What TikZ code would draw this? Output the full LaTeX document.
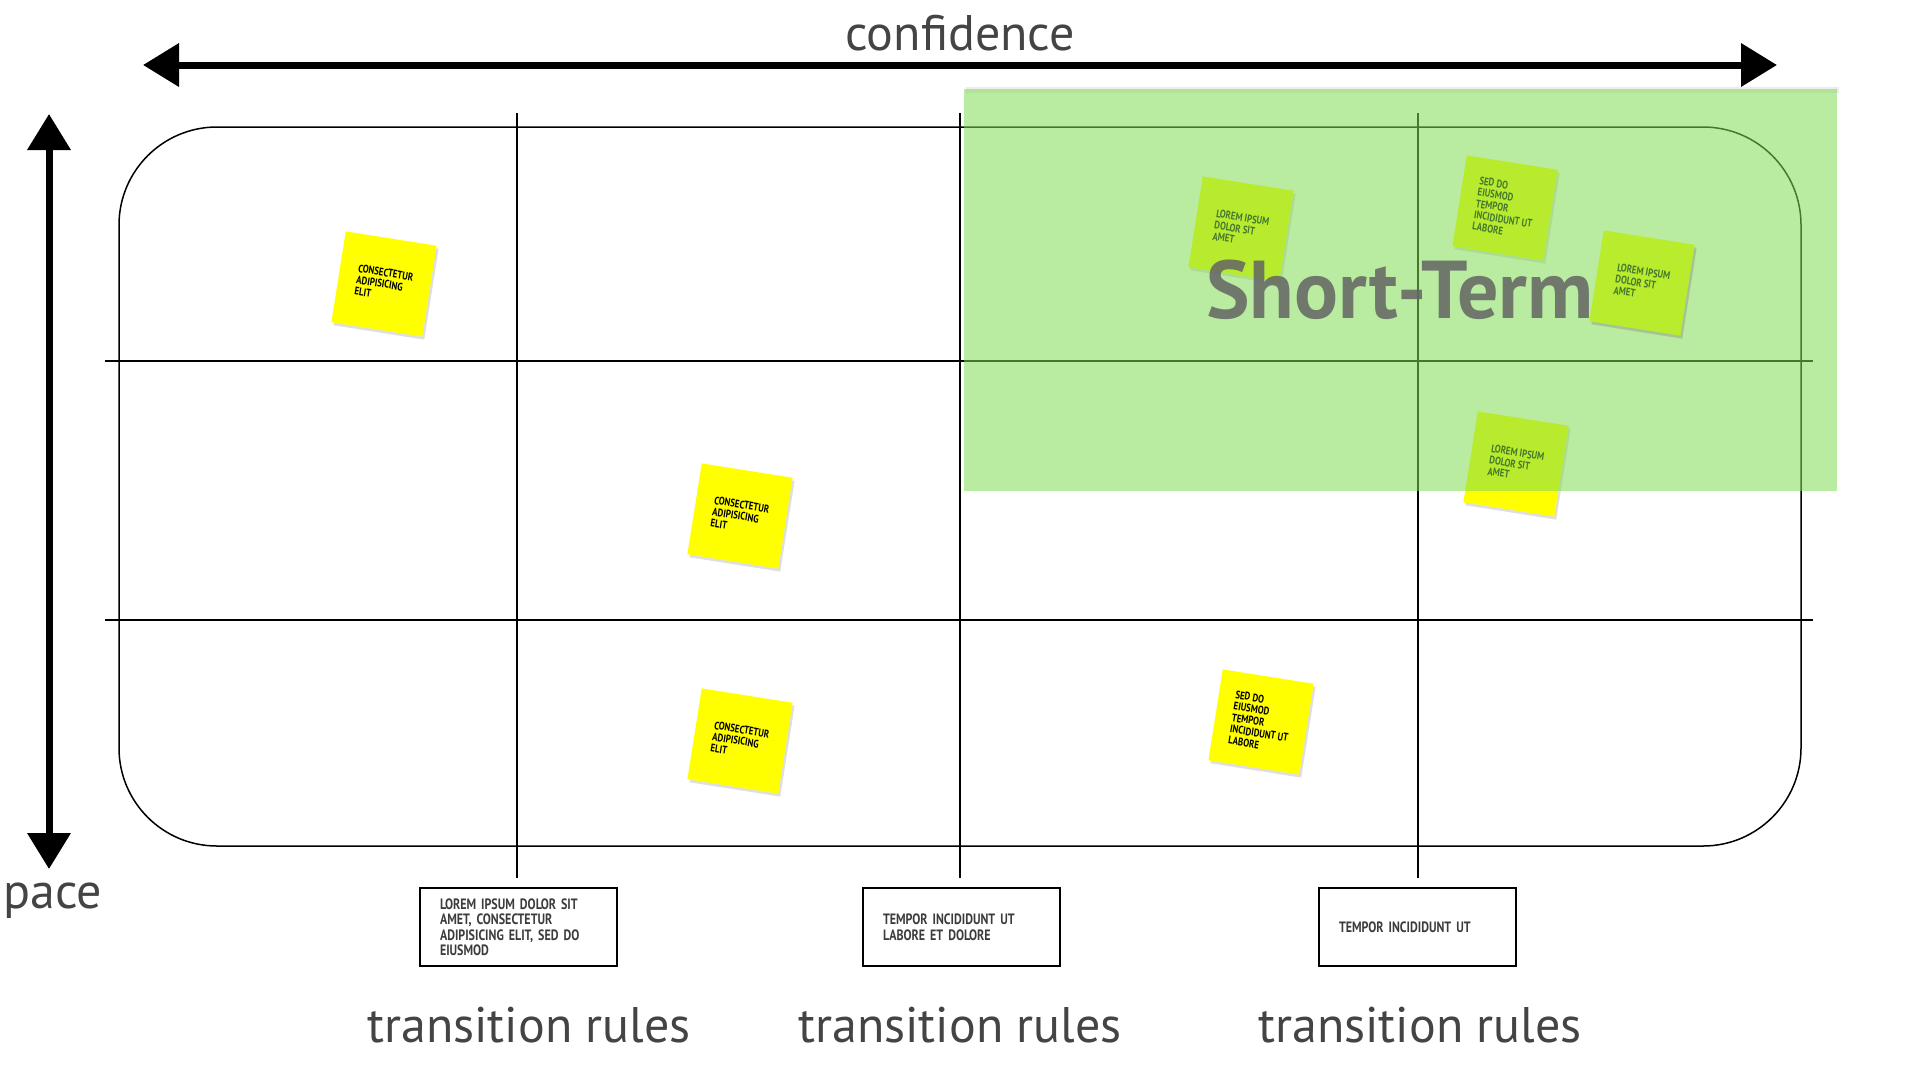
\documentclass[tikz,border=0pt]{standalone}
\usepackage{fontspec}
\setmainfont{PT Sans}
\newfontfamily\notefont{PT Sans}[FakeStretch=0.8]
\usetikzlibrary{arrows.meta,shadows}
\definecolor{stickyyellow}{RGB}{255,255,0}
\definecolor{stickylime}{RGB}{185,236,45}
\definecolor{limetext}{RGB}{70,121,45}
\definecolor{txtgray}{RGB}{68,68,68}
\definecolor{boxtxt}{RGB}{60,60,60}
\definecolor{overlaygreen}{RGB}{127,220,82}
\definecolor{stgray}{RGB}{100,100,100}
\begin{document}
\begin{tikzpicture}[x=1pt,y=-1pt,
  sticky/.style={fill=stickyyellow, minimum width=92pt, minimum height=92pt, rotate=-9,
    drop shadow={opacity=0.25, shadow xshift=2pt, shadow yshift=-3pt},
    font=\notefont\bfseries\fontsize{11}{11.5}\selectfont, align=left, text=black, inner sep=0pt},
  rulebox/.style={draw, line width=1.5pt, minimum width=197pt, minimum height=78pt,
    text width=157pt, inner xsep=20pt, align=left, text=boxtxt,
    font=\notefont\bfseries\fontsize{15}{15.5}\selectfont},
  bigaxis/.style={line width=7pt, {Triangle[length=36pt,width=42pt]}-{Triangle[length=36pt,width=42pt]}},
  axislabel/.style={text=txtgray, font=\fontsize{50}{56}\selectfont, inner sep=0pt},
  gridline/.style={line width=1.3pt}]
\useasboundingbox (0,0) rectangle (1920,1080);

% axes
\coordinate (cl) at (143,65);
\coordinate (cr) at (1777,65);
\coordinate (pt) at (49,114);
\coordinate (pb) at (49,869);
\draw[bigaxis] (cl) -- (cr);
\draw[bigaxis] (pt) -- (pb);
\node[axislabel] (confidence) at (960,33) {confidence};
\node[axislabel] (pace) at (53,901) {pace};

% board
\node[draw, line width=1.5pt, rounded corners=98pt, minimum width=1682pt, minimum height=719pt] (board) at (960,486.5) {};

% grid
\coordinate (v1t) at (517,113); \coordinate (v1b) at (517,878);
\coordinate (v2t) at (960,113); \coordinate (v2b) at (960,878);
\coordinate (v3t) at (1418,113); \coordinate (v3b) at (1418,878);
\coordinate (h1l) at (105,361); \coordinate (h1r) at (1813,361);
\coordinate (h2l) at (105,620); \coordinate (h2r) at (1813,620);
\draw[gridline] (v1t) -- (v1b);
\draw[gridline] (v2t) -- (v2b);
\draw[gridline] (v3t) -- (v3b);
\draw[gridline] (h1l) -- (h1r);
\draw[gridline] (h2l) -- (h2r);

% sticky notes
\node[sticky] (s1) at (384,284) {CONSECTETUR\\ADIPISICING\\ELIT};
\node[sticky] (s2) at (740,516) {CONSECTETUR\\ADIPISICING\\ELIT};
\node[sticky] (s3) at (740,741) {CONSECTETUR\\ADIPISICING\\ELIT};
\node[sticky] (s4) at (1261,722) {SED DO\\EIUSMOD\\TEMPOR\\INCIDIDUNT UT\\LABORE};
\node[sticky] (g1) at (1241,229) {LOREM IPSUM\\DOLOR SIT\\AMET};
\node[sticky] (g2) at (1505,208) {SED DO\\EIUSMOD\\TEMPOR\\INCIDIDUNT UT\\LABORE};
\node[sticky] (g4) at (1516,464) {LOREM IPSUM\\DOLOR SIT\\AMET};

% short-term overlay
\fill[gray, opacity=0.15] (966,87) rectangle (1839,93);
\fill[overlaygreen, opacity=0.55] (964,89) rectangle (1837,491);
\node[text=stgray, text opacity=0.85, font=\bfseries\fontsize{82}{82}\selectfont, inner sep=0pt] (shortterm) at (1400,290) {Short-Term};

% sticky note lying over the title (already seen through the overlay)
\node[sticky, fill=stickylime, text=limetext, drop shadow={opacity=0.15, shadow xshift=2pt, shadow yshift=-3pt}] (g3) at (1642,283) {LOREM IPSUM\\DOLOR SIT\\AMET};

% transition rule boxes
\node[rulebox] (r1) at (518.5,927) {LOREM IPSUM DOLOR SIT\\AMET, CONSECTETUR\\ADIPISICING ELIT, SED DO\\EIUSMOD};
\node[rulebox] (r2) at (961.5,927) {TEMPOR INCIDIDUNT UT\\LABORE ET DOLORE};
\node[rulebox] (r3) at (1417.5,927) {TEMPOR INCIDIDUNT UT};

\node[axislabel] (t1) at (529,1025) {transition rules};
\node[axislabel] (t2) at (960,1025) {transition rules};
\node[axislabel] (t3) at (1420,1025) {transition rules};
\end{tikzpicture}
\end{document}
